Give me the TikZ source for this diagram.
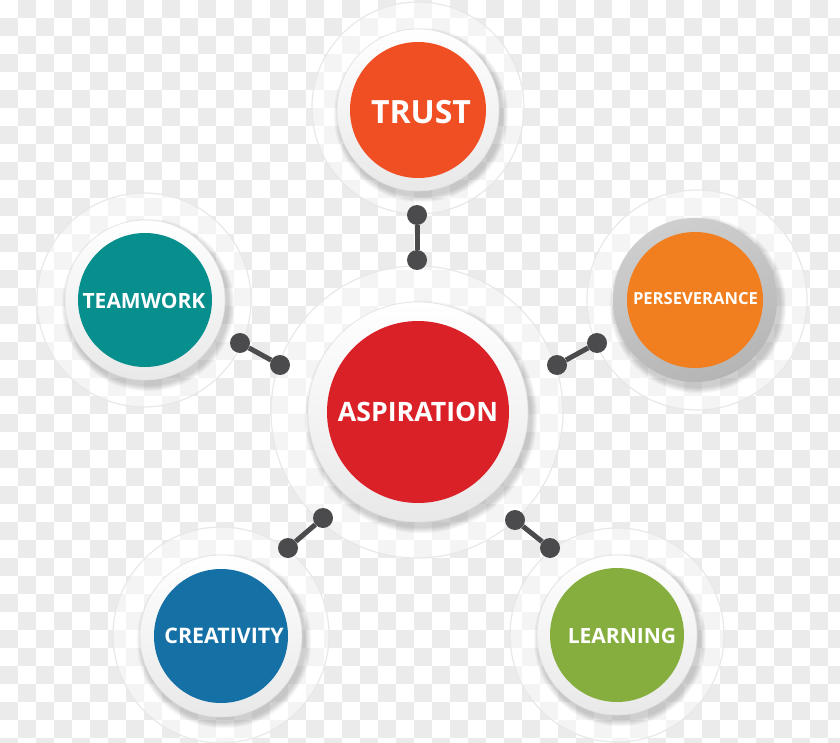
\documentclass[tikz,border=0pt]{standalone}
\usepackage{fontspec}
\setmainfont{Open Sans}
\definecolor{chk}{HTML}{EBEBEB}
\definecolor{ctrust}{HTML}{F04E23}
\definecolor{casp}{HTML}{DA2128}
\definecolor{cteam}{HTML}{078F8E}
\definecolor{cpers}{HTML}{F27F1F}
\definecolor{ccrea}{HTML}{1570A6}
\definecolor{clearn}{HTML}{86AE3E}
\definecolor{clink}{HTML}{4B4B4D}
\definecolor{ringc}{HTML}{F4F4F4}
\definecolor{ringedge}{HTML}{E2E2E2}
\newcommand{\halo}[3]{% x, y, outer radius
  \fill[white, fill opacity=0.45] (#1,#2) circle[radius=#3pt];
  \draw[white!82!gray, line width=1.2pt] (#1,#2) circle[radius=#3pt];}
\newcommand{\ringshadow}[3]{% x, y, ring radius
  \foreach \k in {1,...,7}{
    \fill[black, opacity=0.028] (#1+3,#2+5) circle[radius={(#3+\k*0.9)*1pt}];}}
\newcommand{\whitering}[3]{%
  \shade[top color=white, bottom color=ringc!90!gray] (#1,#2) circle[radius=#3pt];
  \draw[ringedge, line width=0.6pt] (#1,#2) circle[radius=#3pt];}
\begin{document}
\begin{tikzpicture}[x=1pt,y=-1pt,
  disk/.style={circle, fill=#1, inner sep=0pt},
  lbl/.style={text=white, inner sep=0pt},
  dotc/.style={circle, fill=clink, minimum size=20pt, inner sep=0pt},
  link/.style={draw=clink, line width=5pt}]
\useasboundingbox (0,0) rectangle (840,743);
\fill[white] (0,0) rectangle (840,743);
\foreach \i in {1,3,...,45}{\foreach \j in {0,2,...,40}{
  \fill[chk] (\i*18,\j*18) rectangle ++(18,18);}}
\foreach \i in {0,2,...,46}{\foreach \j in {1,3,...,41}{
  \fill[chk] (\i*18,\j*18) rectangle ++(18,18);}}
% translucent halos
\halo{417}{412}{146}
\halo{418}{108}{106}
\halo{144}{300}{107}
\halo{697}{300}{110}
\halo{221}{635}{108}
\halo{617}{635}{107}
% shadows and rings
\ringshadow{418}{412}{110}\whitering{418}{412}{110}
\ringshadow{418}{110}{81}\whitering{418}{110}{81}
\ringshadow{145}{300}{80}\whitering{145}{300}{80}
\ringshadow{695}{300}{82}
\shade[top color=gray!38, bottom color=gray!58, shading angle=20] (695,300) circle[radius=82pt];
\ringshadow{221}{636}{81}\whitering{221}{636}{81}
\ringshadow{617}{635}{80}\whitering{617}{635}{80}
% coloured disks
\node[disk=casp, minimum size=182pt] (asp) at (418,412) {};
\node[disk=ctrust, minimum size=136pt] (trust) at (418,110) {};
\node[disk=cteam, minimum size=134pt] (team) at (145,300) {};
\node[disk=cpers, minimum size=136pt] (pers) at (695,300) {};
\node[disk=ccrea, minimum size=134pt] (crea) at (221,636) {};
\node[disk=clearn, minimum size=134pt] (learn) at (617,635) {};
% labels
\node[lbl, font=\bfseries\fontsize{26.7}{26.7}\selectfont] (asp-t) at (418,412) {ASPIRATION};
\node[lbl, font=\bfseries\fontsize{32}{32}\selectfont] (trust-t) at (421,112) {TRUST};
\node[lbl, font=\bfseries\fontsize{21}{21}\selectfont] (team-t) at (144,301) {TEAMWORK};
\node[lbl, font=\bfseries\fontsize{16.6}{16.6}\selectfont] (pers-t) at (695.5,298.5) {PERSEVERANCE};
\node[lbl, font=\bfseries\fontsize{21.4}{21.4}\selectfont] (crea-t) at (224,636) {CREATIVITY};
\node[lbl, font=\bfseries\fontsize{21}{21}\selectfont] (learn-t) at (622,636) {LEARNING};
% connectors
\node[dotc] (t1) at (417,215) {};
\node[dotc] (t2) at (417,260) {};
\draw[link] (t1) -- (t2);
\node[dotc] (w1) at (240,343) {};
\node[dotc] (w2) at (280,365) {};
\draw[link] (w1) -- (w2);
\node[dotc] (p1) at (557,365) {};
\node[dotc] (p2) at (597,343) {};
\draw[link] (p1) -- (p2);
\node[dotc] (c1) at (288,548) {};
\node[dotc] (c2) at (323,518) {};
\draw[link] (c1) -- (c2);
\node[dotc] (l1) at (515,520) {};
\node[dotc] (l2) at (550,548) {};
\draw[link] (l1) -- (l2);
\end{tikzpicture}
\end{document}
